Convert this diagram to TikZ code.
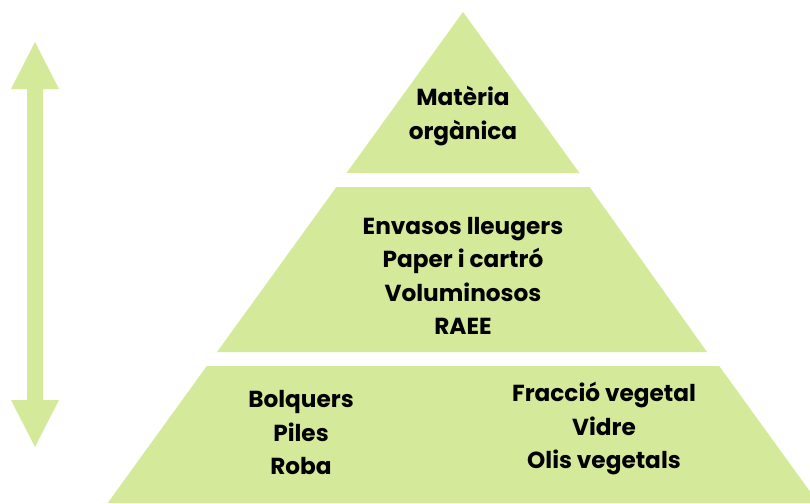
\documentclass[tikz,border=0pt]{standalone}
\usepackage{fontspec}
\setmainfont{Poppins}
\definecolor{verd}{RGB}{213,233,155}
\begin{document}
\begin{tikzpicture}[x=1pt, y=-1pt, line join=round, font=\bfseries\fontsize{23.2}{33.5}\selectfont,
	nivell/.style={fill=verd}, etiqueta/.style={align=center, text=black}]
	\useasboundingbox (0,0) rectangle (810,503);
	\clip (0,0) rectangle (810,503);
	% fletxa doble
	\fill[verd] (35,42)--(59,89)--(43,89)--(43,400)--(59,400)--(35,447)--(11,400)--(27,400)--(27,89)--(11,89)--cycle;
	% piramide
	\fill[nivell] (463,12)--(579.5,173)--(346.5,173)--cycle;
	\fill[nivell] (336.4,187)--(589.6,187)--(707,352)--(217,352)--cycle;
	\fill[nivell] (206.8,366)--(719.2,366)--(818.3,503)--(107.7,503)--cycle;
	\node[etiqueta] (organica) at (463,116) {Matèria\\orgànica};
	\node[etiqueta] (envasos) at (463,276) {Envasos lleugers\\Paper i cartró\\Voluminosos\\RAEE};
	\node[etiqueta] (bolquers) at (301,433) {Bolquers\\Piles\\Roba};
	\node[etiqueta] (vegetal) at (604,429) {Fracció vegetal\\Vidre\\Olis vegetals};
\end{tikzpicture}
\end{document}
